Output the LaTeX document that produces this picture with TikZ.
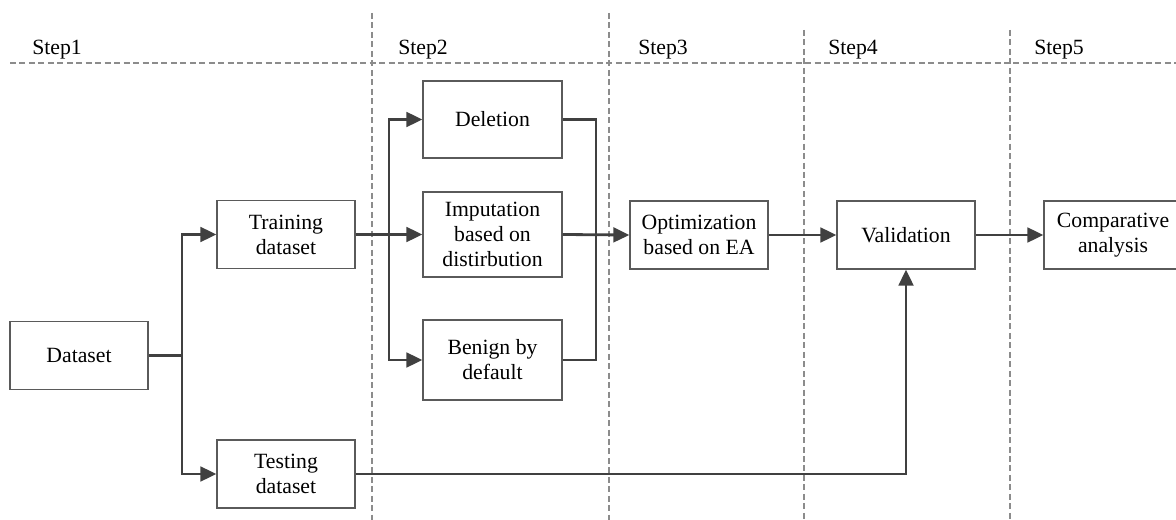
\documentclass[tikz,border=0pt]{standalone}
\usepackage{fontspec}
\setmainfont{Liberation Serif}
\usetikzlibrary{arrows.meta}
\definecolor{linegray}{HTML}{404040}
\definecolor{boxgray}{HTML}{5A5A5A}
\definecolor{divgray}{HTML}{8C8C8C}
\begin{document}
\begin{tikzpicture}[x=0.75pt,y=-0.75pt,
  font=\fontsize{16.3pt}{18.75pt}\selectfont,
  box/.style={draw=boxgray,line width=0.9pt,align=center,inner sep=0pt,
    minimum width=103.5pt,minimum height=51pt},
  conn/.style={draw=linegray,line width=2.1pt},
  arr/.style={conn,-{Triangle[length=12pt,width=11pt]}},
  divider/.style={draw=divgray,line width=1.1pt,dash pattern=on 4.5pt off 2.6pt},
  steplabel/.style={anchor=base west,inner sep=0pt}]
\useasboundingbox (0,0) rectangle (1176,520);

% stage dividers
\draw[divider] (10,63) -- (1176,63);
\draw[divider] (372,13) -- (372,520);
\draw[divider] (609,13) -- (609,520);
\draw[divider] (804,30) -- (804,520);
\draw[divider] (1010,30) -- (1010,520);

% stage headings
\node[steplabel] (s1) at (32,55) {Step1};
\node[steplabel] (s2) at (398,55) {Step2};
\node[steplabel] (s3) at (638,55) {Step3};
\node[steplabel] (s4) at (828,55) {Step4};
\node[steplabel] (s5) at (1034,55) {Step5};

% process boxes
\node[box] (ds) at (79,355.5) {Dataset};
\node[box] (train) at (286,234.5) {Training\\dataset};
\node[box] (test) at (286,474) {Testing\\dataset};
\node[box,minimum width=104.25pt,minimum height=57.75pt] (del) at (492.5,119.5) {Deletion};
\node[box,minimum width=104.25pt,minimum height=63.75pt] (imp) at (492.5,234.5) {Imputation\\based on\\distirbution};
\node[box,minimum width=104.25pt,minimum height=60pt] (ben) at (492.5,360) {Benign by\\default};
\node[box] (opt) at (699,235) {Optimization\\based on EA};
\node[box] (val) at (906,235) {Validation};
\node[box] (comp) at (1113,235) {Comparative\\analysis};

% branch points
\coordinate (j1) at (182,355.5);
\coordinate (j2) at (389,234.5);
\coordinate (j3) at (596,234.5);

% connectors
\draw[conn] (ds.east) -- (j1);
\draw[arr] (j1) |- (train.west);
\draw[arr] (j1) |- (test.west);
\draw[arr] (train.east) -- (imp.west);
\draw[arr] (j2) |- (del.west);
\draw[arr] (j2) |- (ben.west);
\draw[conn] (del.east) -| (j3);
\draw[conn] (ben.east) -| (j3);
\draw[arr] (imp.east) -- (opt.west);
\draw[arr] (opt.east) -- (val.west);
\draw[arr] (val.east) -- (comp.west);
\draw[arr] (test.east) -| (val.south);
\end{tikzpicture}
\end{document}
